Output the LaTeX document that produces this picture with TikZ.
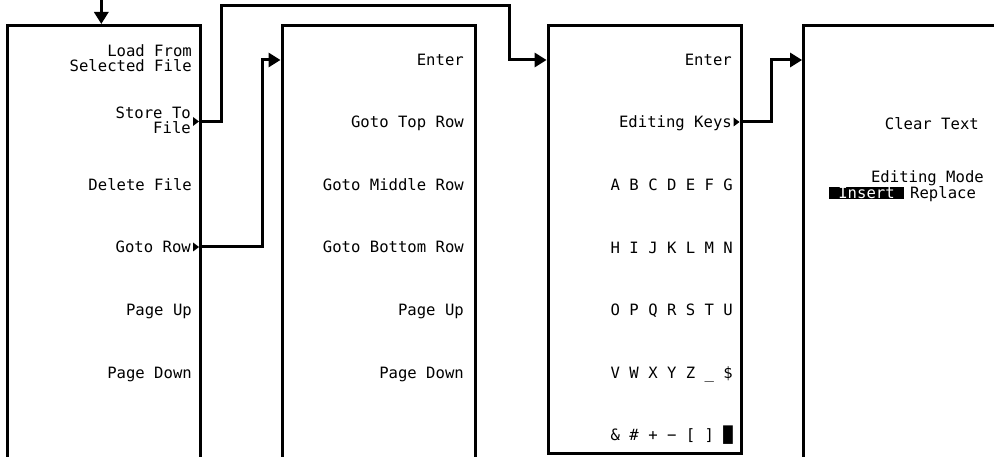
\documentclass[tikz,border=0pt]{standalone}
\usepackage{fontspec}
\newfontfamily\hpfont{DejaVu Sans Mono}
\usetikzlibrary{arrows.meta}
\begin{document}
\begin{tikzpicture}[x=1pt,y=-1pt,
  panel/.style={draw=black, line width=3pt, inner sep=0pt, outer sep=1.5pt, line join=miter, minimum width=193pt},
  txt/.style={font=\hpfont\fontsize{15.6}{15.6}\selectfont, anchor=east, inner sep=0pt, text height=11.4pt, text depth=0pt},
  conn/.style={draw=black, line width=3pt, line join=miter, -{Triangle[length=12pt,width=14pt]}},
  mk/.style={fill=black}
]
\useasboundingbox (0,0) rectangle (994,457);
\clip (0,0) rectangle (994,457);

% panels
\node[panel, minimum height=432.5pt] (b1) at (104,241.75) {};
\node[panel, minimum height=432.5pt] (b2) at (378.5,241.75) {};
\node[panel, minimum height=427.8pt] (b3) at (644.6,239.4) {};
\node[panel, minimum height=432.5pt] (b4) at (900.1,241.75) {};

% panel 1
\node[txt] (l1a) at (192,51) {Load From};
\node[txt] (l1b) at (192,66) {Selected File};
\node[txt] (l2a) at (191,113) {Store To};
\node[txt] (l2b) at (191,127.5) {File};
\node[txt] (l3) at (192,185) {Delete File};
\node[txt] (l4) at (191,247) {Goto Row};
\node[txt] (l5) at (192,310) {Page Up};
\node[txt] (l6) at (192,372.5) {Page Down};

% panel 2
\node[txt] (e2) at (464,60) {Enter};
\node[txt] (r2) at (464,122) {Goto Top Row};
\node[txt] (r3) at (464,185) {Goto Middle Row};
\node[txt] (r4) at (464,247) {Goto Bottom Row};
\node[txt] (r5) at (464,310) {Page Up};
\node[txt] (r6) at (464,372.5) {Page Down};

% panel 3
\node[txt] (e3) at (732,60) {Enter};
\node[txt] (k3) at (732,122) {Editing Keys};
\node[txt] (a3) at (733,185) {A B C D E F G};
\node[txt] (h3) at (733,247.5) {H I J K L M N};
\node[txt] (o3) at (733,310) {O P Q R S T U};
\node[txt] (v3) at (733,372.5) {V W X Y Z \_ \$};
\node[txt] (s3) at (733,435) {\& \# + − [ ] █};

% panel 4
\node[txt] (c4) at (979,124) {Clear Text};
\node[txt] (m4) at (984,177) {Editing Mode};
\node[txt, fill=black, text=white, inner xsep=9.3pt, inner ysep=0.5pt, anchor=center] (i4) at (866.5,193) {Insert};
\node[txt, anchor=west] (p4) at (910,193) {Replace};

% markers
\coordinate (s1) at (199,121.5);
\coordinate (s2) at (199,247);
\coordinate (s3) at (739.5,122);
\foreach \s in {s1,s2,s3}
  \fill[mk] (\s) -- ++(-6,-4.5) -- ++(0,9) -- cycle;

% connectors
\coordinate (in) at (101.3,-2);
\draw[conn, line width=3.5pt] (in) -- (in |- b1.north);
\draw[conn] (s1) -| (221.7,6) -| (509.3,60) -- (b3.west |- e3);
\draw[conn] (s2) -| (262.5,60) -- (b2.west |- e2);
\draw[conn] (s3) -| (771,60) -- (b4.west |- e3);
\end{tikzpicture}
\end{document}
